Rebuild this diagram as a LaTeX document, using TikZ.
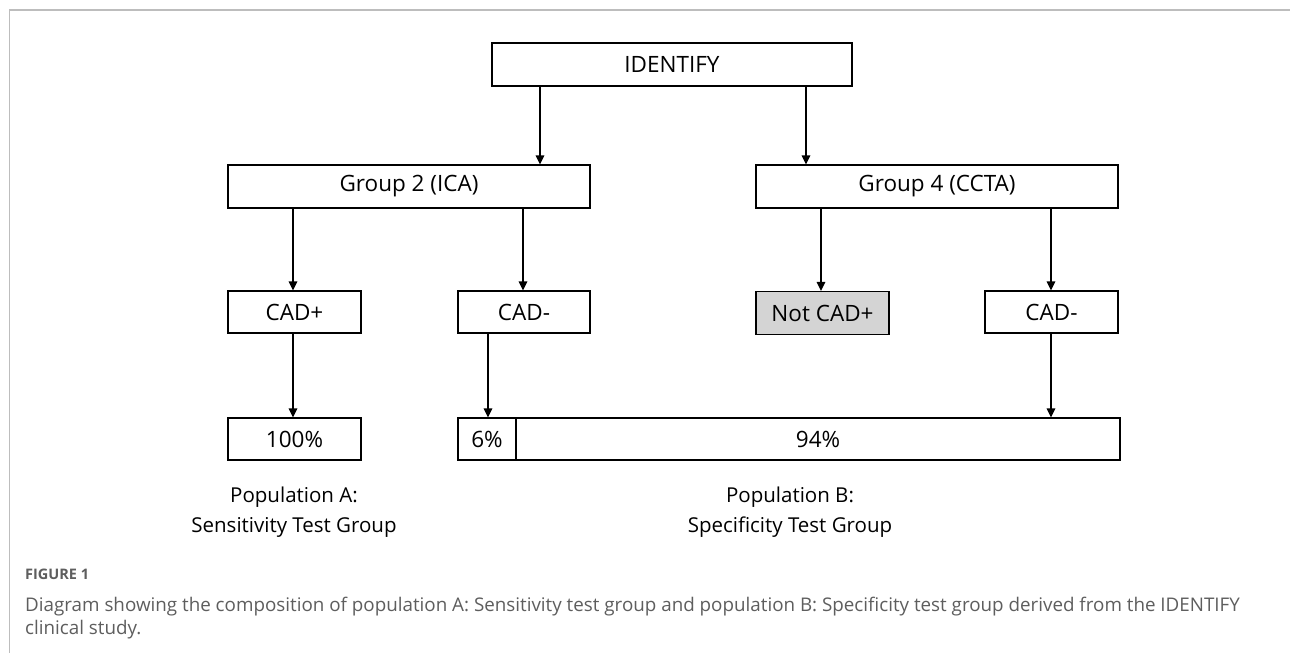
\documentclass[tikz,border=0pt]{standalone}
\usepackage{fontspec}
\setmainfont{Open Sans}
\newfontfamily\capfont{Open Sans}
\usetikzlibrary{arrows.meta}
\definecolor{framegray}{HTML}{BDBDBD}
\definecolor{capgray}{HTML}{5E5E5E}
\definecolor{boxgray}{HTML}{D4D4D4}
\begin{document}
\begin{tikzpicture}[x=1pt,y=-1pt,
  box/.style={draw=black,line width=1.2pt,minimum height=42pt,inner sep=0pt,font=\fontsize{22.5}{26}\selectfont,anchor=center},
  arr/.style={line width=1.6pt,-{Triangle[length=9pt,width=8.5pt]}},
  poplbl/.style={align=center,font=\fontsize{20.5}{30}\selectfont,inner sep=0pt}]
\useasboundingbox (0,0) rectangle (1290,653);
\fill[white] (0,0) rectangle (1290,653);
\draw[framegray,line width=1.5pt] (9.5,653) -- (9.5,10) -- (1290,10);

\node[box,minimum width=360pt,minimum height=43pt] (identify) at (672,64.5) {IDENTIFY};
\node[box,minimum width=362pt,minimum height=43pt] (g2) at (409,186.5) {Group 2 (ICA)};
\node[box,minimum width=362pt,minimum height=43pt] (g4) at (937,186.5) {Group 4 (CCTA)};

\node[box,minimum width=133pt] (cadp) at (294.5,312) {CAD+};
\node[box,minimum width=132pt] (cadm1) at (524,312) {CAD-};
\node[box,minimum width=133pt,minimum height=43pt,fill=boxgray] (notcad) at (822.5,313) {Not CAD+};
\node[box,minimum width=133pt] (cadm2) at (1051.5,312) {CAD-};

\node[box,minimum width=133pt] (p100) at (294.5,439) {100\%};
\node[box,minimum width=58pt] (p6) at (487,439) {6\%};
\node[box,minimum width=604pt] (p94) at (818,439) {94\%};

\draw[arr] (540,0 |- identify.south) -- (540,0 |- g2.north);
\draw[arr] (806,0 |- identify.south) -- (806,0 |- g4.north);
\draw[arr] (293,0 |- g2.south) -- (293,0 |- cadp.north);
\draw[arr] (523,0 |- g2.south) -- (523,0 |- cadm1.north);
\draw[arr] (821,0 |- g4.south) -- (821,0 |- notcad.north);
\draw[arr] (1051,0 |- g4.south) -- (1051,0 |- cadm2.north);
\draw[arr] (293,0 |- cadp.south) -- (293,0 |- p100.north);
\draw[arr] (488,0 |- cadm1.south) -- (488,0 |- p6.north);
\draw[arr] (1051,0 |- cadm2.south) -- (1051,0 |- p94.north);

\node[poplbl] (popA) at (294,512) {Population A:\\Sensitivity Test Group};
\node[poplbl] (popB) at (790,512) {Population B:\\Specificity Test Group};

\node[anchor=base west,inner sep=0pt,text=capgray,font=\capfont\fontsize{14.5}{17}\selectfont\bfseries] (figlbl) at (25,579) {FIGURE 1};
\node[anchor=base west,inner sep=0pt,text=capgray,font=\capfont\fontsize{18.8}{23}\selectfont] (capA) at (25,611) {Diagram showing the composition of population A: Sensitivity test group and population B: Specificity test group derived from the IDENTIFY};
\node[anchor=base west,inner sep=0pt,text=capgray,font=\capfont\fontsize{18.8}{23}\selectfont] (capB) at (25,634) {clinical study.};
\end{tikzpicture}
\end{document}
